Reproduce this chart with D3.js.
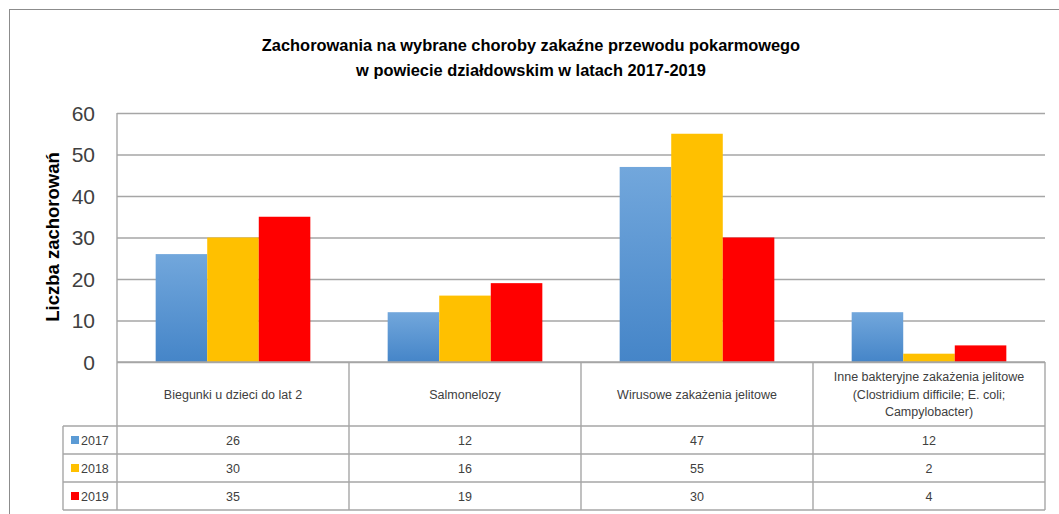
<!DOCTYPE html>
<html>
<head>
<meta charset="utf-8">
<script src="https://cdn.jsdelivr.net/npm/d3@7"></script>
<style>
  body { margin: 0; background: #fff; }
  svg { display: block; font-family: "Liberation Sans", Arial, sans-serif; }
  .grid line { stroke: #a6a6a6; stroke-width: 1.4; }
  .grid path { display: none; }
  .ytick text { fill: #404040; font-size: 21px; }
  .cell { fill: #404040; font-size: 12.5px; }
  .tbl { stroke: #a6a6a6; stroke-width: 1.4; }
</style>
</head>
<body>
<svg width="1059" height="514"></svg>
<script>
var categories = [
  ["Biegunki u dzieci do lat 2"],
  ["Salmonelozy"],
  ["Wirusowe zakażenia jelitowe"],
  ["Inne bakteryjne zakażenia jelitowe", "(Clostridium difficile; E. coli;", "Campylobacter)"]
];
var years = ["2017", "2018", "2019"];
var v2017 = [26, 12, 47, 12];
var v2018 = [30, 16, 55, 2];
var v2019 = [35, 19, 30, 4];
var yTicks = [0, 10, 20, 30, 40, 50, 60];
var colors = ["url(#blueGrad)", "#ffc000", "#ff0000"];
var swatch = ["#5b9bd5", "#ffc000", "#ff0000"];

var series = [v2017, v2018, v2019];

var svg = d3.select("svg"),
  margin = {"top": 113, "left": 117, "right": 1059 - 1045, "bottom": 514 - 362},
  width = 1059 - margin.left - margin.right,
  height = 514 - margin.top - margin.bottom;

var defs = svg.append("defs");
var grad = defs.append("linearGradient").attr("id", "blueGrad")
  .attr("x1", 0).attr("y1", 0).attr("x2", 0).attr("y2", 1);
grad.append("stop").attr("offset", "0%").attr("stop-color", "#72a7dc");
grad.append("stop").attr("offset", "100%").attr("stop-color", "#4585c8");

// outer chart border
svg.append("rect")
  .attr("x", 9.5).attr("y", 9.5).attr("width", 1060).attr("height", 520)
  .attr("fill", "none").attr("stroke", "#8c8c8c").attr("stroke-width", 1);

// title
var title = svg.append("text")
  .attr("x", 531).attr("text-anchor", "middle")
  .style("font-weight", "bold").style("font-size", "16.4px").style("fill", "#000");
title.append("tspan").attr("x", 531).attr("y", 51)
  .text("Zachorowania na wybrane choroby zakaźne przewodu pokarmowego");
title.append("tspan").attr("x", 531).attr("y", 76)
  .text("w powiecie działdowskim w latach 2017-2019");

var g = svg.append("g").attr("transform", "translate(" + margin.left + "," + margin.top + ")");

var y = d3.scaleLinear().domain([0, 60]).range([height, 0]);
var x0 = d3.scaleBand().domain(d3.range(categories.length)).range([0, width]);
var x1 = d3.scaleBand().domain(d3.range(years.length)).range([0, x0.bandwidth()])
  .paddingInner(0).paddingOuter(0.75);

// gridlines
g.append("g").attr("class", "grid")
  .call(d3.axisLeft(y).tickValues(yTicks).tickSize(-width).tickFormat(""));

// y tick labels
g.append("g").attr("class", "ytick")
  .selectAll("text").data(yTicks).enter().append("text")
  .attr("x", -22).attr("y", function(d) { return y(d); })
  .attr("dy", "0.36em").attr("text-anchor", "end")
  .text(function(d) { return d; });

// y axis title
svg.append("text")
  .attr("transform", "translate(59,237) rotate(-90)")
  .attr("text-anchor", "middle")
  .style("font-weight", "bold").style("font-size", "18.5px").style("fill", "#000")
  .text("Liczba zachorowań");

// bars
var groups = g.selectAll(".grp").data(categories).enter().append("g")
  .attr("class", "grp")
  .attr("transform", function(d, i) { return "translate(" + x0(i) + ",0)"; });

groups.selectAll("rect")
  .data(function(d, i) { return series.map(function(s, k) { return {k: k, v: s[i]}; }); })
  .enter().append("rect")
  .attr("x", function(d) { return x1(d.k); })
  .attr("width", x1.bandwidth())
  .attr("y", function(d) { return y(d.v); })
  .attr("height", function(d) { return height - y(d.v); })
  .attr("fill", function(d) { return colors[d.k]; });

// data table
var tableTop = 362, headerH = 64, rowH = 28, legLeft = 63;
var t = svg.append("g");
var xs = x0.domain().map(function(i) { return margin.left + x0(i); }).concat([margin.left + width]);

// horizontal lines
t.append("line").attr("class", "tbl")
  .attr("x1", margin.left).attr("x2", margin.left + width)
  .attr("y1", tableTop).attr("y2", tableTop);
d3.range(years.length + 1).forEach(function(r) {
  var yy = tableTop + headerH + r * rowH;
  t.append("line").attr("class", "tbl")
    .attr("x1", legLeft).attr("x2", margin.left + width)
    .attr("y1", yy).attr("y2", yy);
});
// vertical lines
xs.forEach(function(xx, i) {
  t.append("line").attr("class", "tbl")
    .attr("x1", xx).attr("x2", xx)
    .attr("y1", i === 0 ? margin.top : tableTop)
    .attr("y2", tableTop + headerH + years.length * rowH);
});
t.append("line").attr("class", "tbl")
  .attr("x1", legLeft).attr("x2", legLeft)
  .attr("y1", tableTop + headerH).attr("y2", tableTop + headerH + years.length * rowH);

// header cells
categories.forEach(function(lines, i) {
  var cx = margin.left + x0(i) + x0.bandwidth() / 2;
  var cy = tableTop + headerH / 2;
  lines.forEach(function(line, j) {
    t.append("text").attr("class", "cell")
      .attr("x", cx).attr("y", cy + (j - (lines.length - 1) / 2) * 17.5)
      .attr("dy", "0.36em").attr("text-anchor", "middle")
      .text(line);
  });
});

// value rows
years.forEach(function(yr, r) {
  var cy = tableTop + headerH + r * rowH + rowH / 2;
  t.append("rect")
    .attr("x", 71).attr("y", cy - 4).attr("width", 8).attr("height", 8)
    .attr("fill", swatch[r]);
  t.append("text").attr("class", "cell")
    .attr("x", 81).attr("y", cy).attr("dy", "0.36em")
    .text(yr);
  series[r].forEach(function(v, i) {
    t.append("text").attr("class", "cell")
      .attr("x", margin.left + x0(i) + x0.bandwidth() / 2).attr("y", cy)
      .attr("dy", "0.36em").attr("text-anchor", "middle")
      .text(v);
  });
});
</script>
</body>
</html>
